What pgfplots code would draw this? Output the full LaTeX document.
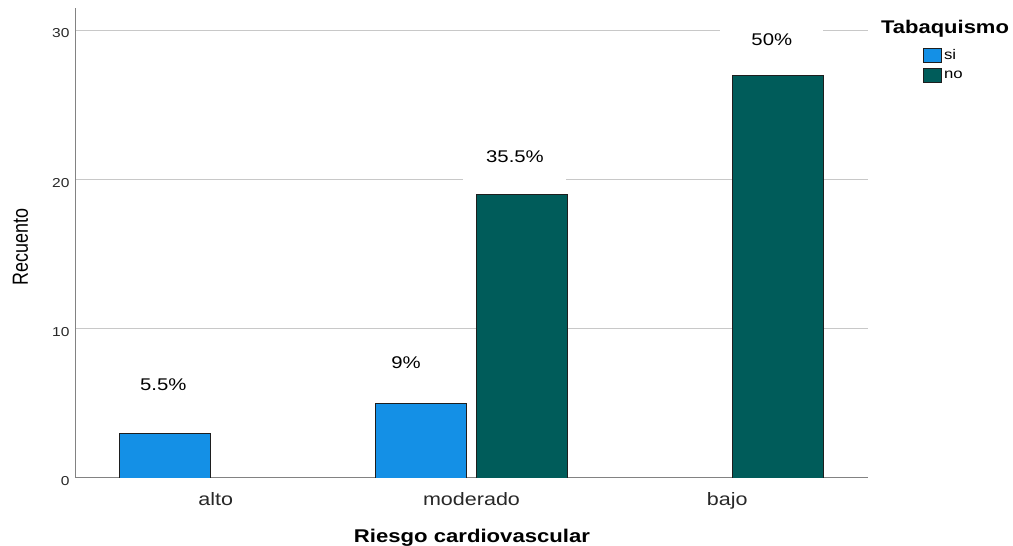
\documentclass[border=0pt]{standalone}
\usepackage{pgfplots}
\pgfplotsset{compat=1.18}
\usepackage{fontspec}
\setmainfont{Liberation Sans}[FakeStretch=1.2]
\newfontfamily\uprightsans{Liberation Sans}

\definecolor{siblue}{RGB}{20,144,230}
\definecolor{noteal}{RGB}{0,92,90}
\definecolor{gridgray}{RGB}{200,200,200}
\definecolor{axisgray}{RGB}{130,130,130}
\definecolor{ticktext}{RGB}{40,40,40}
\definecolor{edge}{RGB}{30,30,30}

\begin{document}
\begin{tikzpicture}[x=1bp,y=1bp]
\useasboundingbox (0,0) rectangle (1013,546);
\begin{axis}[
  at={(75bp,68bp)}, anchor=south west,
  scale only axis, width=793bp, height=470bp,
  xmin=-0.55, xmax=2.55, ymin=0, ymax=31.5,
  axis x line=bottom, axis y line=left,
  axis line style={axisgray, line width=1bp, -},
  ymajorgrids, grid style={gridgray, line width=1bp},
  ytick={0,10,20,30},
  xtick={0,1,2}, xticklabels={alto,moderado,bajo},
  major tick length=0pt,
  /pgf/number format/assume math mode=true,
  yticklabel style={font=\fontsize{13}{15}\selectfont, text=ticktext, xshift=-2bp, yshift=-3bp},
  xticklabel style={font=\fontsize{18}{20}\selectfont, text=ticktext, yshift=-11bp},
  xlabel={Riesgo cardiovascular},
  xlabel style={at={(axis description cs:0.5006,-0.127)}, anchor=center,
                font=\bfseries\fontsize{18.5}{20}\selectfont},
  ylabel={\scalebox{1}[1.22]{\uprightsans Recuento}},
  ylabel style={at={(axis description cs:-0.0687,0.491)}, anchor=center,
                font=\fontsize{18}{20}\selectfont},
  legend cell align=left,
  legend style={at={(rel axis cs:1.0694,0.917)}, anchor=north west,
                draw=none, fill=none, inner sep=0pt,
                font=\fontsize{14}{16}\selectfont, row sep=5bp,
                /tikz/every even column/.append style={column sep=3bp}},
  legend image code/.code={\draw[#1, draw=edge, line width=0.8bp] (0bp,-7bp) rectangle (18bp,7bp);},
]
% Tabaquismo = si
\addplot[ybar, bar width=0.355, bar shift=-0.197, fill=siblue, draw=edge, line width=0.8bp]
  coordinates {(0,3) (1,5)};
\addlegendentry{si}
% Tabaquismo = no
\addplot[ybar, bar width=0.355, bar shift=0.197, fill=noteal, draw=edge, line width=0.8bp]
  coordinates {(1,19) (2,27)};
\addlegendentry{no}

% percentage labels on white boxes
\tikzset{pct/.style={fill=white, inner sep=0pt, minimum width=103bp, minimum height=48bp,
                     font=\fontsize{17}{20}\selectfont, text=black}}
\node[pct] at (axis cs:-0.205,6.24) {5.5\%};
\node[pct] at (axis cs:0.744,7.72) {9\%};
\node[pct] at (axis cs:1.170,21.54) {35.5\%};
\node[pct] at (axis cs:2.174,29.4) {50\%};
\end{axis}
\node[anchor=base, font=\bfseries\fontsize{18.4}{20}\selectfont] at (945,512) {Tabaquismo};
\end{tikzpicture}
\end{document}
